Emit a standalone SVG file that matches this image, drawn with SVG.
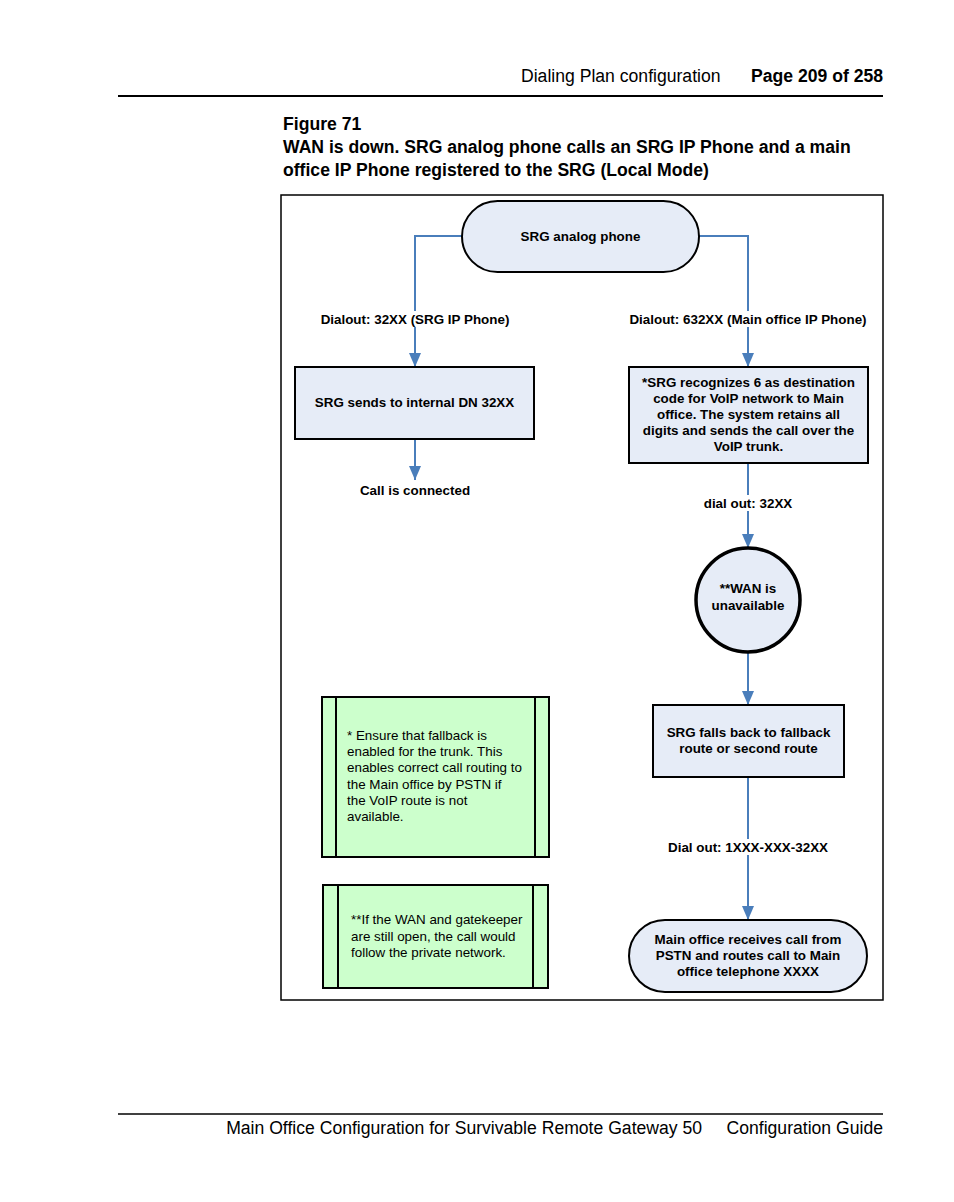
<svg xmlns="http://www.w3.org/2000/svg" width="954" height="1202" viewBox="0 0 954 1202">
<defs>
<marker id="arr" markerWidth="14" markerHeight="12" refX="14" refY="6" orient="auto" markerUnits="userSpaceOnUse" viewBox="0 0 14 12">
<path d="M0,0 L14,6 L0,12 Z" fill="#4a7ebb"/>
</marker>
<style>
.hdr{font-family:"Liberation Sans",Arial,sans-serif;font-size:17.6px;fill:#000}
.b{font-weight:bold}
.node{fill:#e6ecf7;stroke:#000;stroke-width:2}
.nt{font-family:"Liberation Sans",Arial,sans-serif;font-size:13.4px;font-weight:bold;fill:#000;text-anchor:middle}
.lbl{font-family:"Liberation Sans",Arial,sans-serif;font-size:13.4px;font-weight:bold;fill:#000;text-anchor:middle}
.note{fill:#ccffcc;stroke:#000;stroke-width:2}
.ntxt{font-family:"Liberation Sans",Arial,sans-serif;font-size:13.4px;fill:#000}
.con{fill:none;stroke:#4a7ebb;stroke-width:2}
</style>
</defs>
<rect width="954" height="1202" fill="#fff"/>
<text class="hdr" x="521" y="82">Dialing Plan configuration</text>
<text class="hdr b" x="883" y="82" text-anchor="end">Page 209 of 258</text>
<line x1="118" y1="96" x2="883" y2="96" stroke="#000" stroke-width="2"/>
<text class="hdr b" x="283" y="130">Figure 71</text>
<text class="hdr b" x="283" y="153">WAN is down. SRG analog phone calls an SRG IP Phone and a main</text>
<text class="hdr b" x="283" y="176">office IP Phone registered to the SRG (Local Mode)</text>
<rect x="281" y="195" width="602" height="805" fill="none" stroke="#000" stroke-width="1.5"/>
<g id="connectors">
<path class="con" d="M462,236 H415 V367" marker-end="url(#arr)"/>
<path class="con" d="M699,236 H748 V367" marker-end="url(#arr)"/>
<path class="con" d="M415,439 V480" marker-end="url(#arr)"/>
<path class="con" d="M748,463 V548" marker-end="url(#arr)"/>
<path class="con" d="M748,653 V705" marker-end="url(#arr)"/>
<path class="con" d="M748,777 V920" marker-end="url(#arr)"/>
<rect x="318" y="311" width="194" height="16" fill="#fff"/>
<text class="lbl" x="415" y="324">Dialout: 32XX (SRG IP Phone)</text>
<rect x="628" y="311" width="240" height="16" fill="#fff"/>
<text class="lbl" x="748" y="324">Dialout: 632XX (Main office IP Phone)</text>
<text class="lbl" x="415" y="495">Call is connected</text>
<rect x="702" y="495" width="92" height="16" fill="#fff"/>
<text class="lbl" x="748" y="508">dial out: 32XX</text>
<rect x="666" y="839" width="164" height="16" fill="#fff"/>
<text class="lbl" x="748" y="852">Dial out: 1XXX-XXX-32XX</text>
</g>
<g id="n-analog">
<rect class="node" x="462" y="201" width="237" height="71" rx="35.5" ry="35.5"/>
<text class="nt" x="580.5" y="241">SRG analog phone</text>
</g>
<g id="n-internal">
<rect class="node" x="295" y="367" width="239" height="72"/>
<text class="nt" x="414.5" y="407">SRG sends to internal DN 32XX</text>
</g>
<g id="n-recognizes">
<rect class="node" x="629" y="367" width="239" height="96"/>
<text class="nt" x="748.5" y="387">*SRG recognizes 6 as destination</text>
<text class="nt" x="748.5" y="403">code for VoIP network to Main</text>
<text class="nt" x="748.5" y="419">office. The system retains all</text>
<text class="nt" x="748.5" y="435">digits and sends the call over the</text>
<text class="nt" x="748.5" y="451">VoIP trunk.</text>
</g>
<g id="n-wan">
<circle cx="748" cy="600" r="52" fill="#e6ecf7" stroke="#000" stroke-width="3.5"/>
<text class="nt" x="748" y="593">**WAN is</text>
<text class="nt" x="748" y="610">unavailable</text>
</g>
<g id="n-fallback">
<rect class="node" x="653" y="705" width="191" height="72"/>
<text class="nt" x="748.5" y="737">SRG falls back to fallback</text>
<text class="nt" x="748.5" y="753">route or second route</text>
</g>
<g id="n-mainoffice">
<rect class="node" x="629" y="920" width="238" height="72" rx="36" ry="36"/>
<text class="nt" x="748" y="944">Main office receives call from</text>
<text class="nt" x="748" y="960">PSTN and routes call to Main</text>
<text class="nt" x="748" y="976">office telephone XXXX</text>
</g>
<g id="note1">
<rect class="note" x="322" y="697" width="227" height="160"/>
<line x1="336" y1="697" x2="336" y2="857" stroke="#000" stroke-width="2"/>
<line x1="535" y1="697" x2="535" y2="857" stroke="#000" stroke-width="2"/>
<text class="ntxt" x="347" y="740">* Ensure that fallback is</text>
<text class="ntxt" x="347" y="756">enabled for the trunk. This</text>
<text class="ntxt" x="347" y="772">enables correct call routing to</text>
<text class="ntxt" x="347" y="789">the Main office by PSTN if</text>
<text class="ntxt" x="347" y="805">the VoIP route is not</text>
<text class="ntxt" x="347" y="821">available.</text>
</g>
<g id="note2">
<rect class="note" x="323" y="885" width="225" height="103"/>
<line x1="338" y1="885" x2="338" y2="988" stroke="#000" stroke-width="2"/>
<line x1="533" y1="885" x2="533" y2="988" stroke="#000" stroke-width="2"/>
<text class="ntxt" x="351" y="924">**If the WAN and gatekeeper</text>
<text class="ntxt" x="351" y="941">are still open, the call would</text>
<text class="ntxt" x="351" y="957">follow the private network.</text>
</g>
<line x1="118" y1="1114" x2="883" y2="1114" stroke="#000" stroke-width="1.5"/>
<text class="hdr" x="883" y="1134" text-anchor="end" xml:space="preserve">Main Office Configuration for Survivable Remote Gateway 50     Configuration Guide</text>
</svg>
